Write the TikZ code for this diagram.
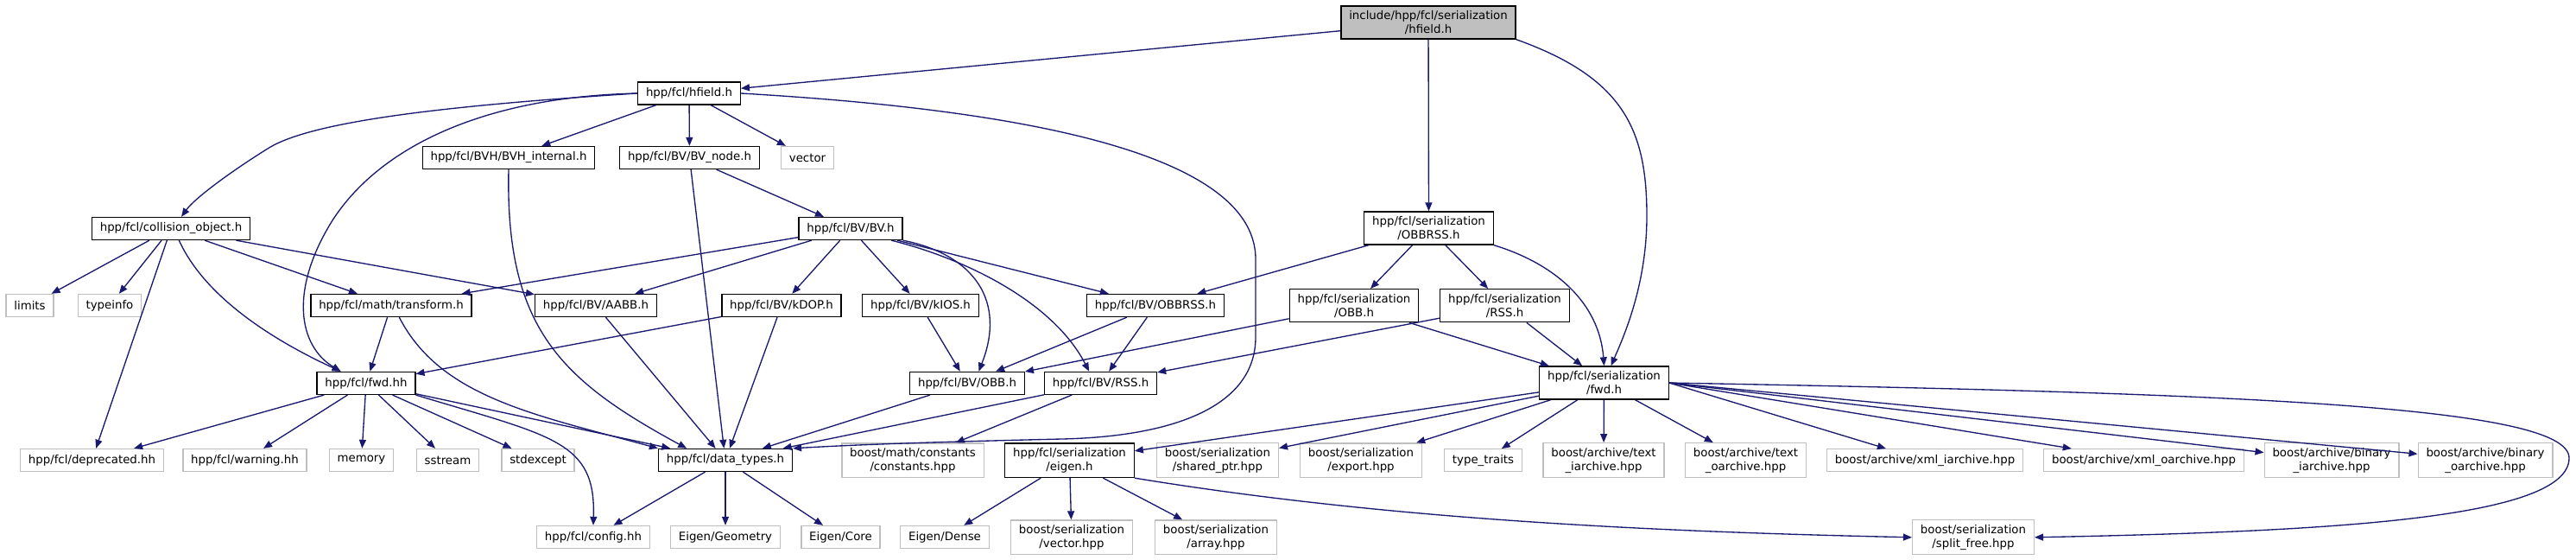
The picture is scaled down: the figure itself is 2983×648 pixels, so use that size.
\documentclass[tikz,border=0pt]{standalone}
\usepackage{fontspec}
\setmainfont{DejaVu Sans}
\usepackage{xcolor}
\usepackage{tikz}
\usetikzlibrary{arrows.meta}

\definecolor{edgeblue}{HTML}{191970}
\definecolor{grey75}{HTML}{BFBFBF}

\begin{document}
\begin{tikzpicture}[
    x=0.75pt, y=-0.75pt,
    box/.style={rectangle, draw=black, fill=white, line width=1pt,
        inner xsep=7pt, inner ysep=4pt, minimum height=19.5pt,
        align=center, font=\fontsize{10}{12}\selectfont},
    sysbox/.style={box, draw=grey75},
    rootbox/.style={box, fill=grey75},
    arr/.style={-{Triangle[length=7.5pt, width=6pt]}, draw=edgeblue,
        fill=none, line width=1pt}
]
\useasboundingbox (0,0) rectangle (2983,648);

% level 0 and 1
\node[rootbox] (root) at (1654,26) {include/hpp/fcl/serialization\\/hfield.h};
\node[box] (hfield) at (798,108) {hpp/fcl/hfield.h};

% level 2
\node[box] (bvhint) at (589,182.5) {hpp/fcl/BVH/BVH\_internal.h};
\node[box] (bvnode) at (798.5,182.5) {hpp/fcl/BV/BV\_node.h};
\node[sysbox] (vector) at (935,182.5) {vector};

% level 3
\node[box] (collobj) at (198,264.5) {hpp/fcl/collision\_object.h};
\node[box] (bvh) at (985,264.5) {hpp/fcl/BV/BV.h};
\node[box] (serobbrss) at (1654.5,264) {hpp/fcl/serialization\\/OBBRSS.h};

% level 4
\node[sysbox] (limits) at (34.5,353.5) {limits};
\node[sysbox] (typeinfo) at (127,353.5) {typeinfo};
\node[box] (transform) at (453,353.5) {hpp/fcl/math/transform.h};
\node[box] (aabb) at (690,353.5) {hpp/fcl/BV/AABB.h};
\node[box] (kdop) at (905,353.5) {hpp/fcl/BV/kDOP.h};
\node[box] (kios) at (1066,353.5) {hpp/fcl/BV/kIOS.h};
\node[box] (bvobbrss) at (1338,353.5) {hpp/fcl/BV/OBBRSS.h};
\node[box] (serobb) at (1568,353.7) {hpp/fcl/serialization\\/OBB.h};
\node[box] (serrss) at (1742.5,353.7) {hpp/fcl/serialization\\/RSS.h};

% level 5
\node[box] (fwdhh) at (424,443.4) {hpp/fcl/fwd.hh};
\node[box] (bvobb) at (1120,443.4) {hpp/fcl/BV/OBB.h};
\node[box] (bvrss) at (1274.5,443.4) {hpp/fcl/BV/RSS.h};
\node[box] (serfwd) at (1857.5,443) {hpp/fcl/serialization\\/fwd.h};

% level 6
\node[sysbox] (deprecated) at (106.5,532.5) {hpp/fcl/deprecated.hh};
\node[sysbox] (warning) at (283.5,532.5) {hpp/fcl/warning.hh};
\node[sysbox] (memory) at (418.5,532.5) {memory};
\node[sysbox] (sstream) at (518.5,532.5) {sstream};
\node[sysbox] (stdexcept) at (623,532.5) {stdexcept};
\node[box] (dtypes) at (840,532.5) {hpp/fcl/data\_types.h};
\node[sysbox] (constants) at (1057,532.7) {boost/math/constants\\/constants.hpp};
\node[box] (sereigen) at (1238.5,532.7) {hpp/fcl/serialization\\/eigen.h};
\node[sysbox] (sharedptr) at (1410,532.7) {boost/serialization\\/shared\_ptr.hpp};
\node[sysbox] (export) at (1576,532.7) {boost/serialization\\/export.hpp};
\node[sysbox] (typetraits) at (1717.5,532.8) {type\_traits};
\node[sysbox] (textia) at (1857,532.7) {boost/archive/text\\\_iarchive.hpp};
\node[sysbox] (textoa) at (2021.5,532.7) {boost/archive/text\\\_oarchive.hpp};
\node[sysbox] (xmlia) at (2229,532.7) {boost/archive/xml\_iarchive.hpp};
\node[sysbox] (xmloa) at (2482.5,532.7) {boost/archive/xml\_oarchive.hpp};
\node[sysbox] (binia) at (2700,532.7) {boost/archive/binary\\\_iarchive.hpp};
\node[sysbox] (binoa) at (2878,532.7) {boost/archive/binary\\\_oarchive.hpp};

% level 7
\node[sysbox] (config) at (687,621.5) {hpp/fcl/config.hh};
\node[sysbox] (geometry) at (840,621.5) {Eigen/Geometry};
\node[sysbox] (core) at (973.5,621.5) {Eigen/Core};
\node[sysbox] (dense) at (1094,621.5) {Eigen/Dense};
\node[sysbox] (vectorhpp) at (1241,621.8) {boost/serialization\\/vector.hpp};
\node[sysbox] (arrayhpp) at (1408,621.8) {boost/serialization\\/array.hpp};
\node[sysbox] (splitfree) at (2285,621.8) {boost/serialization\\/split\_free.hpp};

% root
\draw[arr] (root) -- (hfield);
\draw[arr] (root) -- (serobbrss);
\draw[arr] (root.south east) .. controls (1880,90) and (1907,150) .. (1907,250)
    .. controls (1907,330) and (1880,390) .. ([xshift=6pt]serfwd.north);

% hfield.h
\draw[arr] (hfield.west) .. controls (520,122) and (360,140) .. (310,172)
    .. controls (265,200) and (225,230) .. ([xshift=9pt]collobj.north);
\draw[arr] (hfield.west) .. controls (560,112) and (440,170) .. (385,255)
    .. controls (335,335) and (345,400) .. ([xshift=-22pt]fwdhh.north);
\draw[arr] (hfield) -- (bvhint);
\draw[arr] (hfield) -- (bvnode);
\draw[arr] (hfield) -- (vector);
\draw[arr] (hfield.east) .. controls (1150,125) and (1454,170) .. (1454,300)
    -- (1454,390) .. controls (1454,470) and (1360,505) .. (1230,508)
    .. controls (1100,511) and (1000,514) .. (dtypes.north east);

% BVH / BV_node
\draw[arr] (bvhint.south) .. controls (585,380) and (650,440) .. ([xshift=25pt]dtypes.north west);
\draw[arr] (bvnode) -- (dtypes);
\draw[arr] (bvnode) -- (bvh);

% collision_object.h
\draw[arr] (collobj) -- (limits);
\draw[arr] (collobj) -- (typeinfo);
\draw[arr] (collobj) -- (deprecated);
\draw[arr] ([xshift=7pt]collobj.south) .. controls (240,350) and (330,400) .. ([xshift=-22pt]fwdhh.north);
\draw[arr] (collobj) -- (transform);
\draw[arr] (collobj) -- (aabb);

% BV.h
\draw[arr] (bvh) -- (transform);
\draw[arr] (bvh) -- (aabb);
\draw[arr] (bvh) -- (kdop);
\draw[arr] (bvh) -- (kios);
\draw[arr] (bvh.south east) .. controls (1130,295) and (1165,350) .. ([xshift=10pt]bvobb.north);
\draw[arr] ([xshift=-10pt]bvh.south east) .. controls (1120,300) and (1220,350) .. ([xshift=-10pt]bvrss.north);
\draw[arr] (bvh) -- (bvobbrss);

% serialization/OBBRSS.h
\draw[arr] (serobbrss) -- (bvobbrss);
\draw[arr] (serobbrss) -- (serobb);
\draw[arr] (serobbrss) -- (serrss);
\draw[arr] (serobbrss.south east) .. controls (1800,305) and (1852,350) .. (serfwd.north);
\draw[arr] (serobb) -- (bvobb);
\draw[arr] (serobb) -- (serfwd);
\draw[arr] (serrss) -- (bvrss);
\draw[arr] (serrss) -- (serfwd);

% level 4 to 5
\draw[arr] (transform) -- (fwdhh);
\draw[arr] ([xshift=7pt]transform.south) .. controls (510,460) and (620,480) .. (dtypes.north west);
\draw[arr] (aabb) -- (dtypes);
\draw[arr] (kdop) -- (fwdhh);
\draw[arr] (kdop) -- (dtypes);
\draw[arr] (kios) -- (bvobb);
\draw[arr] (bvobbrss) -- (bvobb);
\draw[arr] (bvobbrss) -- (bvrss);
\draw[arr] (bvobb) -- (dtypes);
\draw[arr] (bvrss) -- (dtypes);
\draw[arr] (bvrss) -- (constants);

% fwd.hh
\draw[arr] (fwdhh) -- (deprecated);
\draw[arr] (fwdhh) -- (warning);
\draw[arr] (fwdhh) -- (memory);
\draw[arr] (fwdhh) -- (sstream);
\draw[arr] (fwdhh) -- (stdexcept);
\draw[arr] (fwdhh) -- (dtypes);
\draw[arr] (fwdhh.south east) .. controls (640,505) and (690,510) .. (config.north);

% data_types.h
\draw[arr] (dtypes) -- (config);
\draw[arr] (dtypes) -- (geometry);
\draw[arr] (dtypes) -- (core);

% serialization/fwd.h
\draw[arr] (serfwd) -- (sereigen);
\draw[arr] (serfwd) -- (sharedptr);
\draw[arr] (serfwd) -- (export);
\draw[arr] (serfwd) -- (typetraits);
\draw[arr] (serfwd) -- (textia);
\draw[arr] (serfwd) -- (textoa);
\draw[arr] (serfwd.east) -- (xmlia);
\draw[arr] (serfwd.east) -- (xmloa);
\draw[arr] (serfwd.east) -- (binia);
\draw[arr] (serfwd.east) -- (binoa);
\draw[arr] (serfwd.east) .. controls (2600,455) and (2975,470) .. (2975,530)
    .. controls (2975,600) and (2700,615) .. (splitfree.east);

% serialization/eigen.h
\draw[arr] (sereigen) -- (dense);
\draw[arr] (sereigen) -- (vectorhpp);
\draw[arr] (sereigen) -- (arrayhpp);
\draw[arr] (sereigen.south east) .. controls (1600,600) and (1900,615) .. (splitfree.west);
\end{tikzpicture}
\end{document}
